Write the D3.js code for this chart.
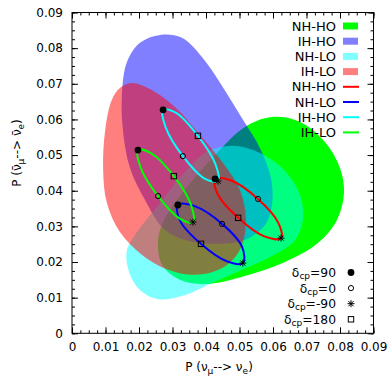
<!DOCTYPE html>
<html>
<head>
<meta charset="utf-8">
<script src="https://cdn.jsdelivr.net/npm/d3@7"></script>
<style>
  body { margin: 0; background: #fff; }
  svg { display: block; font-family: "DejaVu Sans", sans-serif; }
</style>
</head>
<body>
<svg width="392" height="382"></svg>
<script>
// axis ticks
const xTicks = [0, 0.01, 0.02, 0.03, 0.04, 0.05, 0.06, 0.07, 0.08, 0.09];
const yTicks = [0, 0.01, 0.02, 0.03, 0.04, 0.05, 0.06, 0.07, 0.08, 0.09];

// filled regions (outline points, x = P(nu_mu->nu_e), y = P(anti))
const regionNames = ["NH-HO", "IH-HO", "NH-LO", "IH-LO"];
const regionColors = ["#00ff00", "#0000ff", "#00ffff", "#ff0000"];
const regionOpacity = [1, 0.5, 0.5, 0.5];

const nhHoRegion = [
  [0.0257, 0.0262], [0.0278, 0.0324], [0.0337, 0.0402], [0.0427, 0.0500],
  [0.0516, 0.0579], [0.0597, 0.0607], [0.0681, 0.0593], [0.0755, 0.0537],
  [0.0800, 0.0464], [0.0812, 0.0394], [0.0791, 0.0318], [0.0734, 0.0253],
  [0.0636, 0.0200], [0.0516, 0.0161], [0.0397, 0.0138], [0.0322, 0.0150],
  [0.0269, 0.0192]
];
const ihHoRegion = [
  [0.0263, 0.0837], [0.0328, 0.0829], [0.0388, 0.0775], [0.0448, 0.0694],
  [0.0507, 0.0604], [0.0561, 0.0520], [0.0594, 0.0436], [0.0597, 0.0360],
  [0.0576, 0.0304], [0.0516, 0.0262], [0.0427, 0.0251], [0.0337, 0.0262],
  [0.0272, 0.0295], [0.0218, 0.0374], [0.0173, 0.0464], [0.0152, 0.0570],
  [0.0149, 0.0669], [0.0164, 0.0761], [0.0203, 0.0815]
];
const nhLoRegion = [
  [0.0164, 0.0234], [0.0188, 0.0276], [0.0263, 0.0366], [0.0337, 0.0453],
  [0.0403, 0.0509], [0.0478, 0.0526], [0.0561, 0.0506], [0.0633, 0.0458],
  [0.0678, 0.0394], [0.0690, 0.0324], [0.0666, 0.0262], [0.0597, 0.0217],
  [0.0507, 0.0178], [0.0418, 0.0141], [0.0331, 0.0105], [0.0254, 0.0096],
  [0.0197, 0.0127], [0.0167, 0.0183]
];
const ihLoRegion = [
  [0.0179, 0.0702], [0.0248, 0.0677], [0.0316, 0.0627], [0.0382, 0.0556],
  [0.0448, 0.0481], [0.0501, 0.0402], [0.0519, 0.0318], [0.0501, 0.0234],
  [0.0448, 0.0183], [0.0367, 0.0164], [0.0287, 0.0178], [0.0209, 0.0220],
  [0.0143, 0.0284], [0.0104, 0.0366], [0.0093, 0.0458], [0.0099, 0.0570],
  [0.0119, 0.0655], [0.0143, 0.0688]
];
const regions = [nhHoRegion, ihHoRegion, nhLoRegion, ihLoRegion];

// delta_cp curves, points at delta = 0,45,90,135,180,-135,-90,-45
const lineNames = ["NH-HO", "NH-LO", "IH-HO", "IH-LO"];
const lineColors = ["#ff0000", "#0000ff", "#00ffff", "#00ff00"];
const nhHoLine = [
  [0.0555, 0.0377], [0.0477, 0.0428], [0.0427, 0.0433], [0.0435, 0.0390],
  [0.0496, 0.0324], [0.0574, 0.0272], [0.0624, 0.0267], [0.0616, 0.0310]
];
const nhLoLine = [
  [0.0448, 0.0307], [0.0368, 0.0356], [0.0316, 0.0360], [0.0322, 0.0317],
  [0.0385, 0.0251], [0.0462, 0.0202], [0.0510, 0.0197], [0.0508, 0.0242]
];
const ihHoLine = [
  [0.0331, 0.0497], [0.0280, 0.0577], [0.0272, 0.0627], [0.0312, 0.0618],
  [0.0376, 0.0554], [0.0428, 0.0475], [0.0436, 0.0427], [0.0396, 0.0434]
];
const ihLoLine = [
  [0.0257, 0.0385], [0.0205, 0.0465], [0.0197, 0.0514], [0.0238, 0.0504],
  [0.0304, 0.0441], [0.0355, 0.0361], [0.0361, 0.0312], [0.0322, 0.0322]
];
const curves = [nhHoLine, nhLoLine, ihHoLine, ihLoLine];

// marker legend: delta value and index of that point in each curve
const deltaLabels = ["90", "0", "-90", "180"];
const deltaIndex = [2, 0, 6, 4];
const deltaShapes = ["dot", "ring", "star", "box"];

const svg = d3.select("svg");
const plotL = 72, plotR = 373.5, plotT = 12.5, plotB = 333.3;

const x = d3.scaleLinear().domain([0, 0.09]).range([plotL, plotR]);
const y = d3.scaleLinear().domain([0, 0.09]).range([plotB, plotT]);

const fmt = (d) => (d === 0 ? "0" : d3.format(".2f")(d));
const minor = d3.range(0, 0.0901, 0.0025);

// regions
const area = d3
  .line()
  .x((d) => x(d[0]))
  .y((d) => y(d[1]))
  .curve(d3.curveCatmullRomClosed.alpha(0.5));

svg
  .append("g")
  .selectAll("path")
  .data(regions)
  .join("path")
  .attr("d", area)
  .attr("fill", (d, i) => regionColors[i])
  .attr("fill-opacity", (d, i) => regionOpacity[i]);

// curves
svg
  .append("g")
  .selectAll("path")
  .data(curves)
  .join("path")
  .attr("d", area)
  .attr("fill", "none")
  .attr("stroke", (d, i) => lineColors[i])
  .attr("stroke-width", 2);

function marker(g, shape) {
  if (shape === "dot") {
    g.append("circle").attr("r", 3.4).attr("fill", "#000");
  } else if (shape === "ring") {
    g.append("circle").attr("r", 2.6).attr("fill", "none").attr("stroke", "#000").attr("stroke-width", 1);
  } else if (shape === "star") {
    g.append("path")
      .attr("d", "M-3.5,0H3.5M0,-3.5V3.5M-2.6,-2.6L2.6,2.6M-2.6,2.6L2.6,-2.6")
      .attr("stroke", "#000")
      .attr("stroke-width", 1);
  } else {
    g.append("rect")
      .attr("x", -2.7).attr("y", -2.7).attr("width", 5.4).attr("height", 5.4)
      .attr("fill", "none").attr("stroke", "#000").attr("stroke-width", 1);
  }
}

const markG = svg.append("g");
curves.forEach((c) => {
  deltaIndex.forEach((k, j) => {
    const g = markG.append("g").attr("transform", `translate(${x(c[k][0])},${y(c[k][1])})`);
    marker(g, deltaShapes[j]);
  });
});

// axes with inward ticks on all four sides
function axes(axisFn, pos, horiz, labels) {
  const scale = horiz ? x : y;
  const g = svg.append("g").attr("transform", pos);
  g.call(axisFn(scale).tickValues(minor).tickSize(-3).tickFormat(""));
  g.select(".domain").remove();
  const g2 = svg.append("g").attr("transform", pos);
  g2.call(
    axisFn(scale)
      .tickValues(horiz ? xTicks : yTicks)
      .tickSize(-6)
      .tickPadding(9)
      .tickFormat(labels ? fmt : "")
  );
  g2.select(".domain").remove();
  g2.selectAll("text").attr("font-size", 12).attr("font-family", "DejaVu Sans").attr("fill", "#000");
  svg.selectAll(".tick line").attr("stroke", "#000");
}
axes(d3.axisBottom, `translate(0,${plotB})`, true, true);
axes(d3.axisTop, `translate(0,${plotT})`, true, false);
axes(d3.axisLeft, `translate(${plotL},0)`, false, true);
axes(d3.axisRight, `translate(${plotR},0)`, false, false);

svg
  .append("rect")
  .attr("x", plotL)
  .attr("y", plotT)
  .attr("width", plotR - plotL)
  .attr("height", plotB - plotT)
  .attr("fill", "none")
  .attr("stroke", "#000")
  .attr("stroke-width", 1);

// axis titles
const xt = svg
  .append("text")
  .attr("x", 219)
  .attr("y", 371)
  .attr("text-anchor", "middle")
  .attr("font-size", 12);
xt.append("tspan").text("P (ν");
xt.append("tspan").attr("dy", 3).attr("font-size", 9).text("μ");
xt.append("tspan").attr("dy", -3).text("--> ν");
xt.append("tspan").attr("dy", 3).attr("font-size", 9).text("e");
xt.append("tspan").attr("dy", -3).text(")");

const yt = svg
  .append("text")
  .attr("transform", "translate(21,153) rotate(-90)")
  .attr("text-anchor", "middle")
  .attr("font-size", 12);
yt.append("tspan").text("P (ν\u0304");
yt.append("tspan").attr("dy", 3).attr("font-size", 9).text("μ");
yt.append("tspan").attr("dy", -3).text("--> ν\u0304");
yt.append("tspan").attr("dy", 3).attr("font-size", 9).text("e");
yt.append("tspan").attr("dy", -3).text(")");

// legend: regions then curves
const legX = 336, rowH = 15.2, row0 = 26;
regionNames.forEach((n, i) => {
  const cy = row0 + i * rowH;
  svg.append("text").attr("x", legX).attr("y", cy).attr("dy", "0.36em")
    .attr("text-anchor", "end").attr("font-size", 13).text(n);
  svg.append("rect").attr("x", 343).attr("y", cy - 3.5).attr("width", 15).attr("height", 7)
    .attr("fill", regionColors[i]).attr("fill-opacity", regionOpacity[i]);
});
lineNames.forEach((n, i) => {
  const cy = row0 + (i + 4) * rowH;
  svg.append("text").attr("x", legX).attr("y", cy).attr("dy", "0.36em")
    .attr("text-anchor", "end").attr("font-size", 13).text(n);
  svg.append("line").attr("x1", 343).attr("x2", 359).attr("y1", cy).attr("y2", cy)
    .attr("stroke", lineColors[i]).attr("stroke-width", 2);
});

// delta legend
deltaLabels.forEach((lab, i) => {
  const cy = 272.5 + i * 15.6;
  const t = svg.append("text").attr("x", legX).attr("y", cy).attr("dy", "0.36em")
    .attr("text-anchor", "end").attr("font-size", 12.3);
  t.append("tspan").text("δ");
  t.append("tspan").attr("dy", 2).attr("font-size", 9).text("cp");
  t.append("tspan").attr("dy", -2).text("=" + lab);
  marker(svg.append("g").attr("transform", `translate(351,${cy})`), deltaShapes[i]);
});
</script>
</body>
</html>
